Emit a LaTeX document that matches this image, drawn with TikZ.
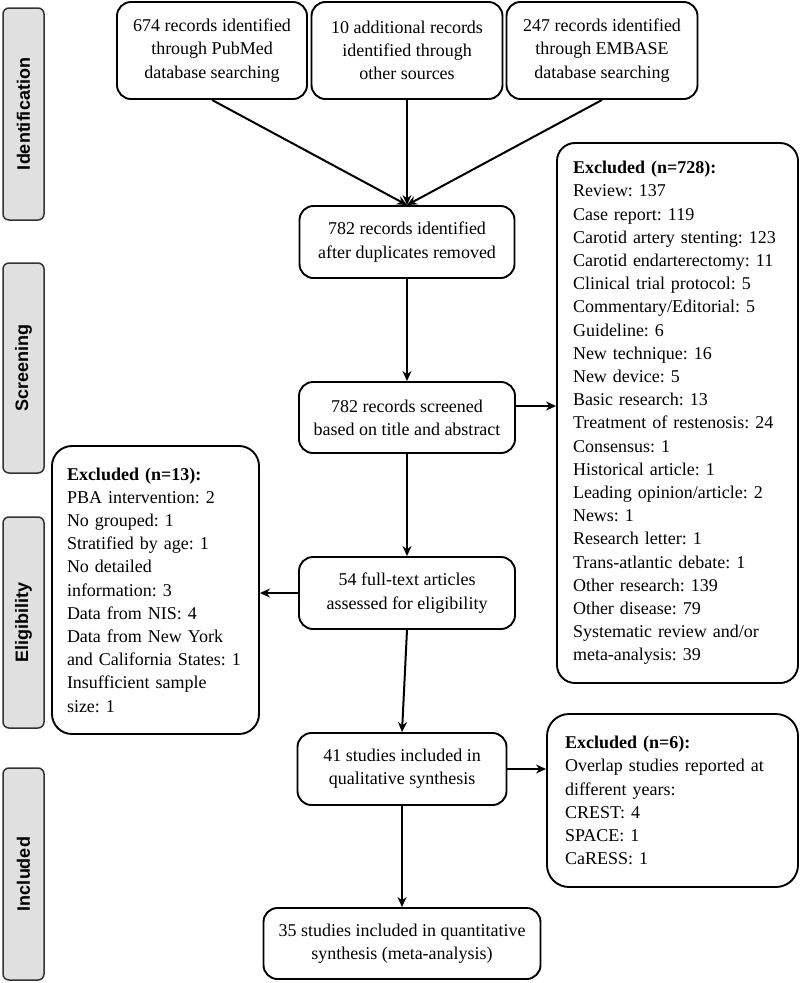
\documentclass[tikz,border=0pt]{standalone}
\usepackage{fontspec}
\setmainfont{Liberation Serif}
\newfontfamily\barfont{Liberation Sans}
\usetikzlibrary{arrows.meta}
\frenchspacing
\begin{document}
\frenchspacing
\begin{tikzpicture}[x=1pt,y=-1pt,
  txt/.style={font=\frenchspacing\fontsize{18}{23.2}\selectfont},
  box/.style={txt, draw, line width=1.9pt, rounded corners=14pt, align=center, inner sep=0pt},
  lbox/.style={txt, draw, line width=1.9pt, rounded corners=18pt, align=left, inner ysep=0pt},
  bar/.style={draw=black!80, fill=black!12, line width=1.5pt, rounded corners=6pt, inner sep=0pt,
              font=\barfont\bfseries\fontsize{18}{20}\selectfont, rotate=90, minimum height=41pt},
  arr/.style={line width=2pt, -{Stealth[length=10pt,width=9pt]}}]
\useasboundingbox (0,0) rectangle (800,983);

% stage bars
\node[bar, minimum width=212pt] (s1) at (23.5,114) {Identification};
\node[bar, minimum width=210pt] (s2) at (23.5,368) {Screening};
\node[bar, minimum width=211pt] (s3) at (23.5,622.5) {Eligibility};
\node[bar, minimum width=212pt] (s4) at (23.5,874) {Included};

% top sources
\node[box, minimum width=190pt, minimum height=97pt] (t1) at (212,50.5)
  {674 records identified\\through PubMed\\database searching};
\node[box, minimum width=191pt, minimum height=97pt] (t2) at (407,50.5)
  {10 additional records\\identified through\\other sources};
\node[box, minimum width=191pt, minimum height=97pt] (t3) at (602,50.5)
  {247 records identified\\through EMBASE\\database searching};

% main flow
\node[box, minimum width=215pt, minimum height=72pt] (a) at (407,242)
  {782 records identified\\after duplicates removed};
\node[box, minimum width=216pt, minimum height=71pt] (b) at (407,417.5)
  {782 records screened\\based on title and abstract};
\node[box, minimum width=216pt, minimum height=72pt] (c) at (407,593)
  {54 full-text articles\\assessed for eligibility};
\node[box, minimum width=209pt, minimum height=72pt] (d) at (402,769)
  {41 studies included in\\qualitative synthesis};
\node[box, minimum width=277pt, minimum height=71pt] (e) at (402,943.5)
  {35 studies included in quantitative\\synthesis (meta-analysis)};

% exclusion boxes
\node[lbox, text width=209pt, inner xsep=16pt, minimum height=540pt] (r) at (677.5,413)
  {\textbf{Excluded (n=728):}\\
   Review: 137\\
   Case report: 119\\
   Carotid artery stenting: 123\\
   Carotid endarterectomy: 11\\
   Clinical trial protocol: 5\\
   Commentary/Editorial: 5\\
   Guideline: 6\\
   New technique: 16\\
   New device: 5\\
   Basic research: 13\\
   Treatment of restenosis: 24\\
   Consensus: 1\\
   Historical article: 1\\
   Leading opinion/article: 2\\
   News: 1\\
   Research letter: 1\\
   Trans-atlantic debate: 1\\
   Other research: 139\\
   Other disease: 79\\
   Systematic review and/or\\
   meta-analysis: 39};
\node[lbox, rounded corners=20pt, text width=177pt, inner xsep=15pt, minimum height=288pt] (l) at (155.5,590)
  {\textbf{Excluded (n=13):}\\
   PBA intervention: 2\\
   No grouped: 1\\
   Stratified by age: 1\\
   No detailed\\
   information: 3\\
   Data from NIS: 4\\
   Data from New York\\
   and California States: 1\\
   Insufficient sample\\
   size: 1};
\node[lbox, rounded corners=22pt, text width=215pt, inner xsep=18pt, minimum height=173pt] (n) at (672.5,800.5)
  {\textbf{Excluded (n=6):}\\
   Overlap studies reported at\\
   different years:\\
   CREST: 4\\
   SPACE: 1\\
   CaRESS: 1};

% connectors
\draw[arr] (t1.south) -- (a.north);
\draw[arr] (t2.south) -- (a.north);
\draw[arr] (t3.south) -- (a.north);
\draw[arr] (a.south) -- (b.north);
\draw[arr] (b.south) -- (c.north);
\draw[arr] (c.south) -- (d.north);
\draw[arr] (d.south) -- (e.north);
\path ([yshift=11.5pt]b.east) coordinate (bx);
\draw[arr] (bx) -- (bx -| r.west);
\draw[arr] (c.west) -- (c.west -| l.east);
\draw[arr] (d.east) -- (d.east -| n.west);
\end{tikzpicture}
\end{document}
